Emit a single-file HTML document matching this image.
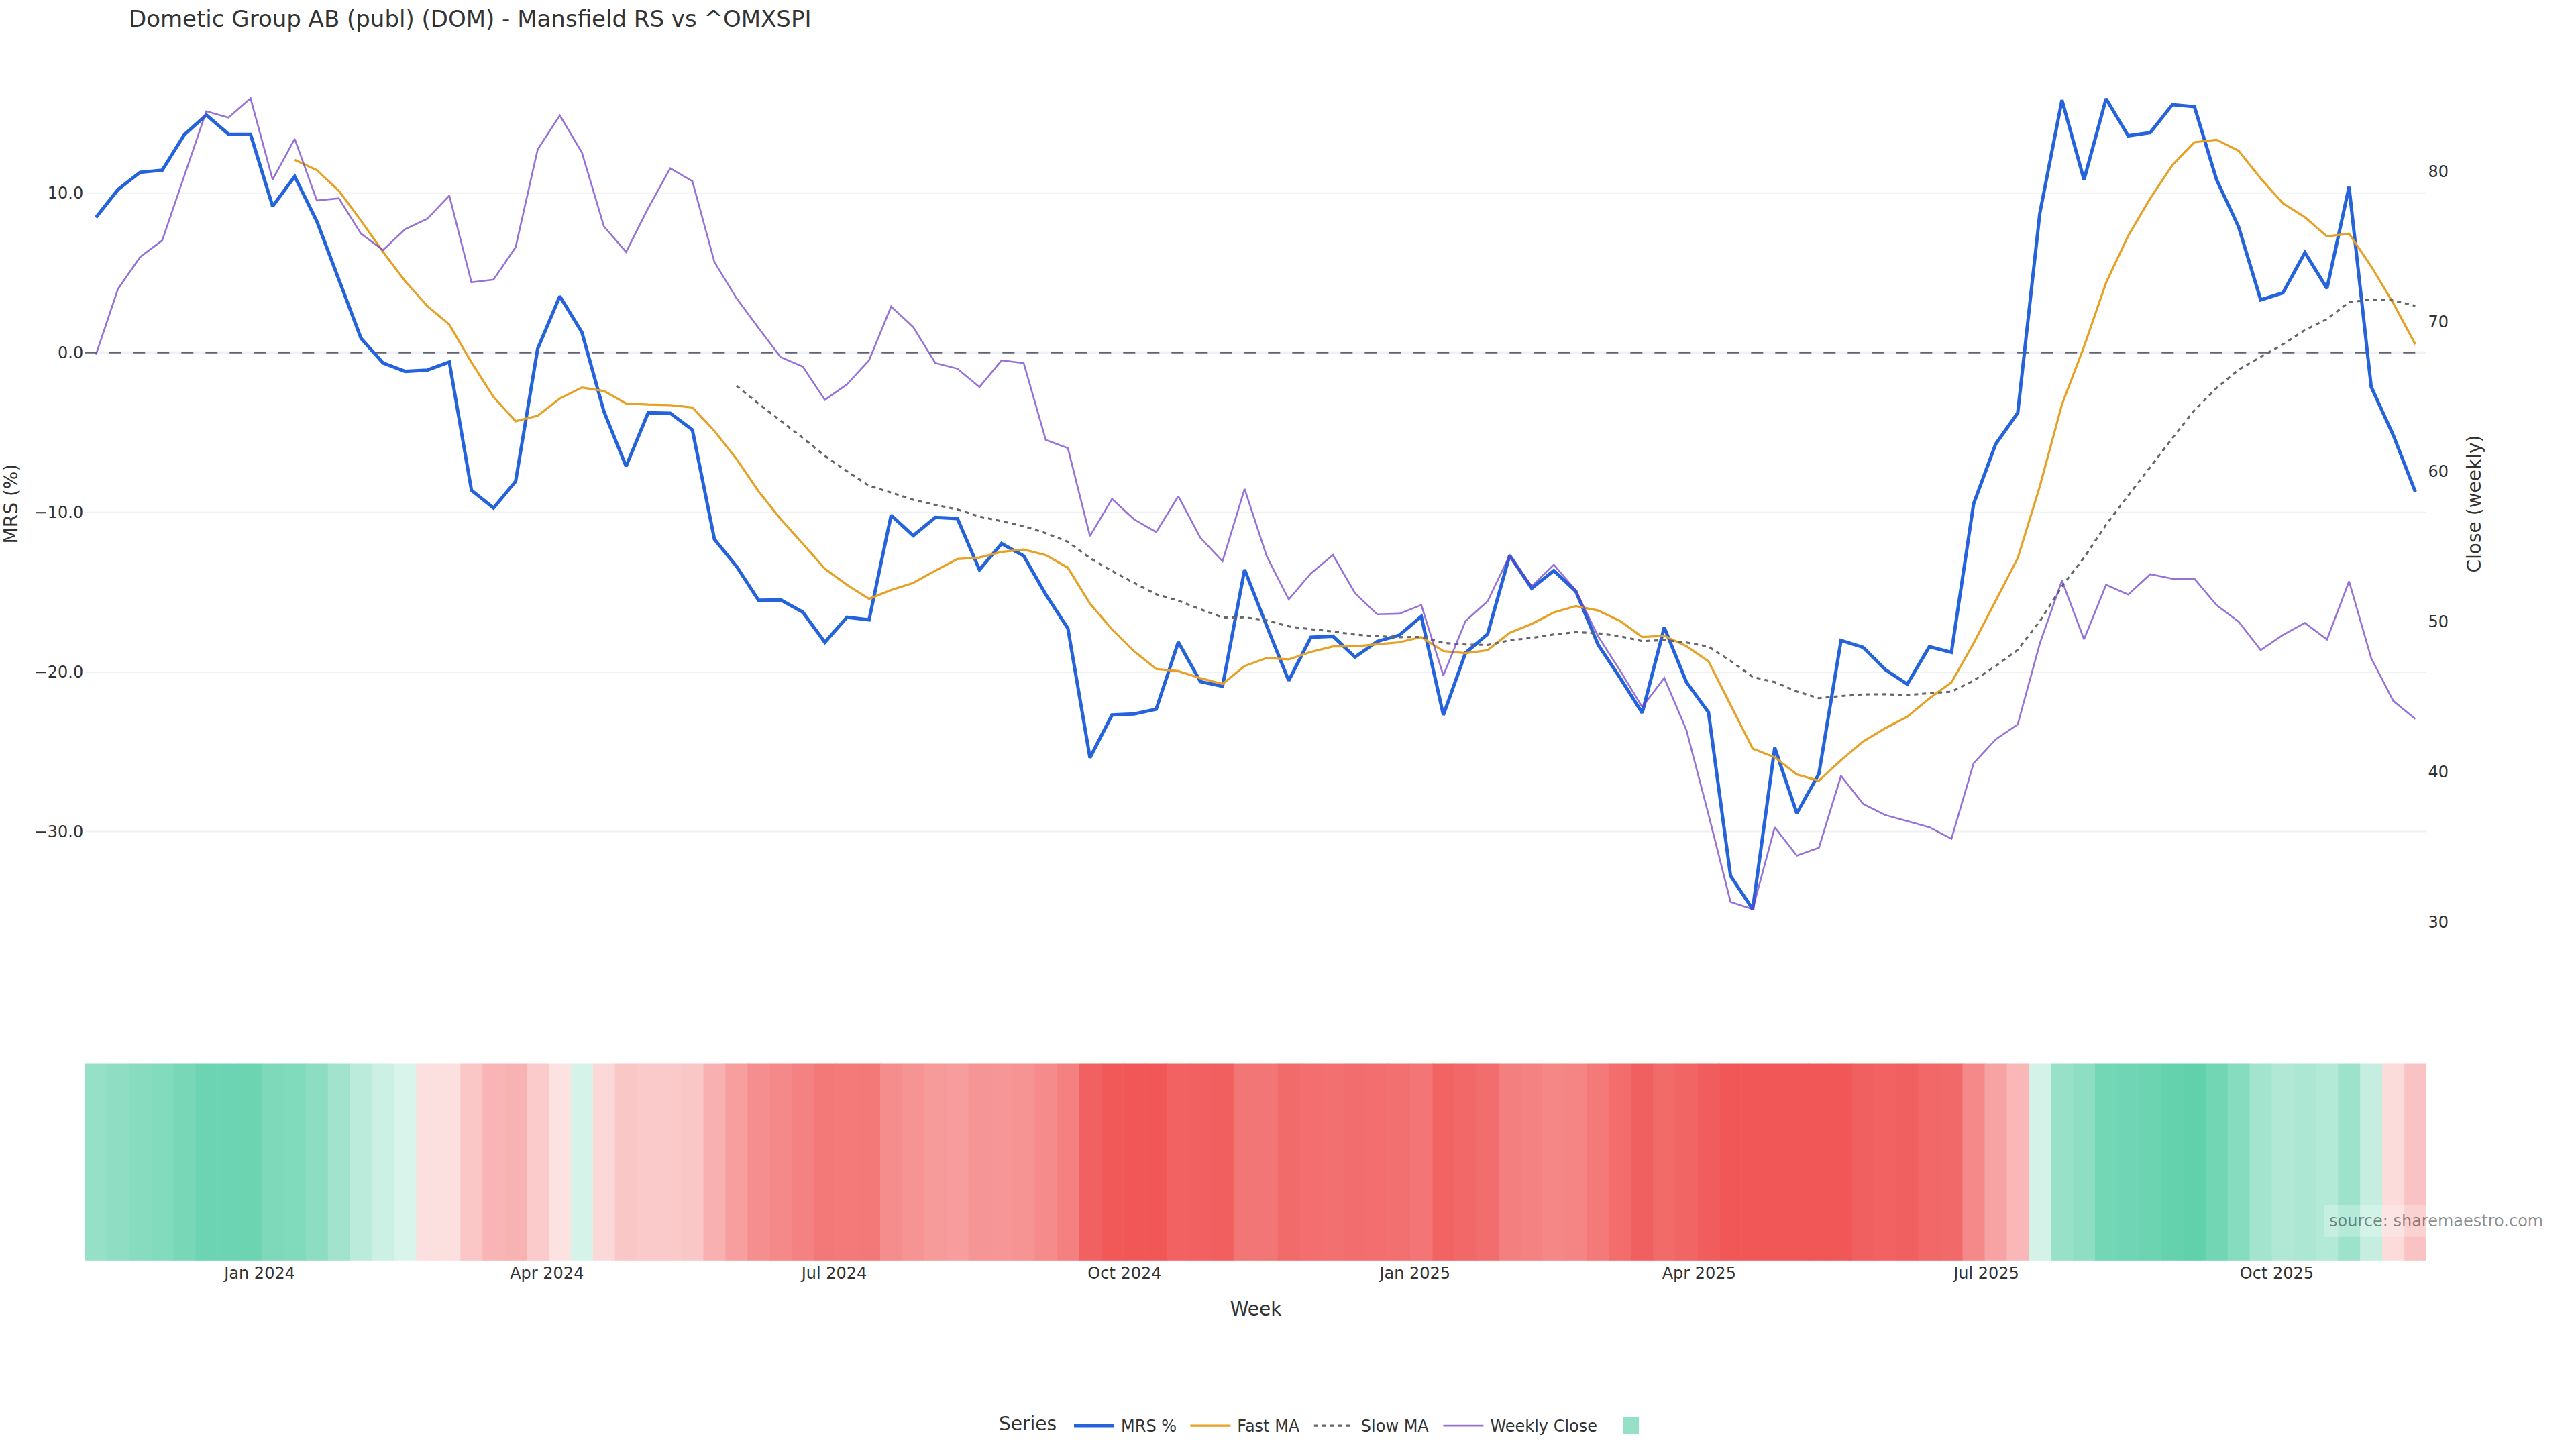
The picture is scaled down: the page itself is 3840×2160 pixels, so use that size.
<!DOCTYPE html><html><head><meta charset="utf-8"><title>Dometic Group AB (publ) (DOM) - Mansfield RS vs ^OMXSPI</title>
<style>html,body{margin:0;padding:0;background:#fff}svg{display:block}text{font-family:"DejaVu Sans","Liberation Sans",sans-serif}</style></head><body>
<svg width="3840" height="2160" viewBox="0 0 3840 2160">
<rect width="3840" height="2160" fill="#fff"/>
<line x1="126.5" x2="3617.0" y1="287.8" y2="287.8" stroke="#eff0f2" stroke-width="2"/>
<line x1="126.5" x2="3617.0" y1="763.7" y2="763.7" stroke="#eff0f2" stroke-width="2"/>
<line x1="126.5" x2="3617.0" y1="1001.9" y2="1001.9" stroke="#eff0f2" stroke-width="2"/>
<line x1="126.5" x2="3617.0" y1="1239.4" y2="1239.4" stroke="#eff0f2" stroke-width="2"/>
<line x1="126.5" x2="3617.0" y1="525.7" y2="525.7" stroke="#eef0fa" stroke-width="4"/>
<rect x="126.50" y="1585.5" width="33.53" height="294.29999999999995" fill="rgb(150,224,200)"/>
<rect x="159.43" y="1585.5" width="33.53" height="294.29999999999995" fill="rgb(143,222,196)"/>
<rect x="192.36" y="1585.5" width="33.53" height="294.29999999999995" fill="rgb(135,220,192)"/>
<rect x="225.29" y="1585.5" width="33.53" height="294.29999999999995" fill="rgb(130,219,189)"/>
<rect x="258.22" y="1585.5" width="33.53" height="294.29999999999995" fill="rgb(119,215,183)"/>
<rect x="291.15" y="1585.5" width="33.53" height="294.29999999999995" fill="rgb(108,212,178)"/>
<rect x="324.08" y="1585.5" width="33.53" height="294.29999999999995" fill="rgb(108,212,178)"/>
<rect x="357.00" y="1585.5" width="33.53" height="294.29999999999995" fill="rgb(108,212,177)"/>
<rect x="389.93" y="1585.5" width="33.53" height="294.29999999999995" fill="rgb(126,217,187)"/>
<rect x="422.86" y="1585.5" width="33.53" height="294.29999999999995" fill="rgb(128,218,188)"/>
<rect x="455.79" y="1585.5" width="33.53" height="294.29999999999995" fill="rgb(140,221,194)"/>
<rect x="488.72" y="1585.5" width="33.53" height="294.29999999999995" fill="rgb(161,227,205)"/>
<rect x="521.65" y="1585.5" width="33.53" height="294.29999999999995" fill="rgb(186,235,219)"/>
<rect x="554.58" y="1585.5" width="33.53" height="294.29999999999995" fill="rgb(205,240,229)"/>
<rect x="587.51" y="1585.5" width="33.53" height="294.29999999999995" fill="rgb(217,244,235)"/>
<rect x="620.44" y="1585.5" width="33.53" height="294.29999999999995" fill="rgb(252,224,224)"/>
<rect x="653.37" y="1585.5" width="33.53" height="294.29999999999995" fill="rgb(252,224,224)"/>
<rect x="686.30" y="1585.5" width="33.53" height="294.29999999999995" fill="rgb(250,198,198)"/>
<rect x="719.23" y="1585.5" width="33.53" height="294.29999999999995" fill="rgb(249,181,181)"/>
<rect x="752.16" y="1585.5" width="33.53" height="294.29999999999995" fill="rgb(248,178,178)"/>
<rect x="785.08" y="1585.5" width="33.53" height="294.29999999999995" fill="rgb(251,203,203)"/>
<rect x="818.01" y="1585.5" width="33.53" height="294.29999999999995" fill="rgb(253,226,226)"/>
<rect x="850.94" y="1585.5" width="33.53" height="294.29999999999995" fill="rgb(214,243,234)"/>
<rect x="883.87" y="1585.5" width="33.53" height="294.29999999999995" fill="rgb(252,217,217)"/>
<rect x="916.80" y="1585.5" width="33.53" height="294.29999999999995" fill="rgb(250,199,199)"/>
<rect x="949.73" y="1585.5" width="33.53" height="294.29999999999995" fill="rgb(250,201,201)"/>
<rect x="982.66" y="1585.5" width="33.53" height="294.29999999999995" fill="rgb(250,202,202)"/>
<rect x="1015.59" y="1585.5" width="33.53" height="294.29999999999995" fill="rgb(250,199,199)"/>
<rect x="1048.52" y="1585.5" width="33.53" height="294.29999999999995" fill="rgb(248,176,176)"/>
<rect x="1081.45" y="1585.5" width="33.53" height="294.29999999999995" fill="rgb(247,159,159)"/>
<rect x="1114.38" y="1585.5" width="33.53" height="294.29999999999995" fill="rgb(245,143,143)"/>
<rect x="1147.31" y="1585.5" width="33.53" height="294.29999999999995" fill="rgb(245,136,136)"/>
<rect x="1180.24" y="1585.5" width="33.53" height="294.29999999999995" fill="rgb(244,130,130)"/>
<rect x="1213.17" y="1585.5" width="33.53" height="294.29999999999995" fill="rgb(243,120,120)"/>
<rect x="1246.09" y="1585.5" width="33.53" height="294.29999999999995" fill="rgb(244,121,121)"/>
<rect x="1279.02" y="1585.5" width="33.53" height="294.29999999999995" fill="rgb(243,120,120)"/>
<rect x="1311.95" y="1585.5" width="33.53" height="294.29999999999995" fill="rgb(245,141,141)"/>
<rect x="1344.88" y="1585.5" width="33.53" height="294.29999999999995" fill="rgb(246,148,148)"/>
<rect x="1377.81" y="1585.5" width="33.53" height="294.29999999999995" fill="rgb(246,154,154)"/>
<rect x="1410.74" y="1585.5" width="33.53" height="294.29999999999995" fill="rgb(247,157,157)"/>
<rect x="1443.67" y="1585.5" width="33.53" height="294.29999999999995" fill="rgb(246,149,149)"/>
<rect x="1476.60" y="1585.5" width="33.53" height="294.29999999999995" fill="rgb(246,150,150)"/>
<rect x="1509.53" y="1585.5" width="33.53" height="294.29999999999995" fill="rgb(246,148,148)"/>
<rect x="1542.46" y="1585.5" width="33.53" height="294.29999999999995" fill="rgb(245,139,139)"/>
<rect x="1575.39" y="1585.5" width="33.53" height="294.29999999999995" fill="rgb(244,128,128)"/>
<rect x="1608.32" y="1585.5" width="33.53" height="294.29999999999995" fill="rgb(241,97,97)"/>
<rect x="1641.25" y="1585.5" width="33.53" height="294.29999999999995" fill="rgb(241,89,89)"/>
<rect x="1674.17" y="1585.5" width="33.53" height="294.29999999999995" fill="rgb(241,87,87)"/>
<rect x="1707.10" y="1585.5" width="33.53" height="294.29999999999995" fill="rgb(241,87,87)"/>
<rect x="1740.03" y="1585.5" width="33.53" height="294.29999999999995" fill="rgb(242,98,98)"/>
<rect x="1772.96" y="1585.5" width="33.53" height="294.29999999999995" fill="rgb(241,97,97)"/>
<rect x="1805.89" y="1585.5" width="33.53" height="294.29999999999995" fill="rgb(241,95,95)"/>
<rect x="1838.82" y="1585.5" width="33.53" height="294.29999999999995" fill="rgb(243,118,118)"/>
<rect x="1871.75" y="1585.5" width="33.53" height="294.29999999999995" fill="rgb(243,118,118)"/>
<rect x="1904.68" y="1585.5" width="33.53" height="294.29999999999995" fill="rgb(242,107,107)"/>
<rect x="1937.61" y="1585.5" width="33.53" height="294.29999999999995" fill="rgb(243,110,110)"/>
<rect x="1970.54" y="1585.5" width="33.53" height="294.29999999999995" fill="rgb(243,112,112)"/>
<rect x="2003.47" y="1585.5" width="33.53" height="294.29999999999995" fill="rgb(242,109,109)"/>
<rect x="2036.40" y="1585.5" width="33.53" height="294.29999999999995" fill="rgb(243,110,110)"/>
<rect x="2069.33" y="1585.5" width="33.53" height="294.29999999999995" fill="rgb(243,112,112)"/>
<rect x="2102.25" y="1585.5" width="33.53" height="294.29999999999995" fill="rgb(243,117,117)"/>
<rect x="2135.18" y="1585.5" width="33.53" height="294.29999999999995" fill="rgb(242,99,99)"/>
<rect x="2168.11" y="1585.5" width="33.53" height="294.29999999999995" fill="rgb(242,103,103)"/>
<rect x="2201.04" y="1585.5" width="33.53" height="294.29999999999995" fill="rgb(242,109,109)"/>
<rect x="2233.97" y="1585.5" width="33.53" height="294.29999999999995" fill="rgb(244,127,127)"/>
<rect x="2266.90" y="1585.5" width="33.53" height="294.29999999999995" fill="rgb(244,130,130)"/>
<rect x="2299.83" y="1585.5" width="33.53" height="294.29999999999995" fill="rgb(245,135,135)"/>
<rect x="2332.76" y="1585.5" width="33.53" height="294.29999999999995" fill="rgb(245,133,133)"/>
<rect x="2365.69" y="1585.5" width="33.53" height="294.29999999999995" fill="rgb(244,122,122)"/>
<rect x="2398.62" y="1585.5" width="33.53" height="294.29999999999995" fill="rgb(243,109,109)"/>
<rect x="2431.55" y="1585.5" width="33.53" height="294.29999999999995" fill="rgb(241,96,96)"/>
<rect x="2464.48" y="1585.5" width="33.53" height="294.29999999999995" fill="rgb(242,107,107)"/>
<rect x="2497.41" y="1585.5" width="33.53" height="294.29999999999995" fill="rgb(242,101,101)"/>
<rect x="2530.33" y="1585.5" width="33.53" height="294.29999999999995" fill="rgb(241,92,92)"/>
<rect x="2563.26" y="1585.5" width="33.53" height="294.29999999999995" fill="rgb(241,87,87)"/>
<rect x="2596.19" y="1585.5" width="33.53" height="294.29999999999995" fill="rgb(241,87,87)"/>
<rect x="2629.12" y="1585.5" width="33.53" height="294.29999999999995" fill="rgb(241,87,87)"/>
<rect x="2662.05" y="1585.5" width="33.53" height="294.29999999999995" fill="rgb(241,87,87)"/>
<rect x="2694.98" y="1585.5" width="33.53" height="294.29999999999995" fill="rgb(241,87,87)"/>
<rect x="2727.91" y="1585.5" width="33.53" height="294.29999999999995" fill="rgb(241,87,87)"/>
<rect x="2760.84" y="1585.5" width="33.53" height="294.29999999999995" fill="rgb(241,96,96)"/>
<rect x="2793.77" y="1585.5" width="33.53" height="294.29999999999995" fill="rgb(242,98,98)"/>
<rect x="2826.70" y="1585.5" width="33.53" height="294.29999999999995" fill="rgb(241,96,96)"/>
<rect x="2859.63" y="1585.5" width="33.53" height="294.29999999999995" fill="rgb(242,103,103)"/>
<rect x="2892.56" y="1585.5" width="33.53" height="294.29999999999995" fill="rgb(242,105,105)"/>
<rect x="2925.49" y="1585.5" width="33.53" height="294.29999999999995" fill="rgb(245,136,136)"/>
<rect x="2958.42" y="1585.5" width="33.53" height="294.29999999999995" fill="rgb(247,163,163)"/>
<rect x="2991.34" y="1585.5" width="33.53" height="294.29999999999995" fill="rgb(249,183,183)"/>
<rect x="3024.27" y="1585.5" width="33.53" height="294.29999999999995" fill="rgb(212,242,232)"/>
<rect x="3057.20" y="1585.5" width="33.53" height="294.29999999999995" fill="rgb(151,225,200)"/>
<rect x="3090.13" y="1585.5" width="33.53" height="294.29999999999995" fill="rgb(141,222,195)"/>
<rect x="3123.06" y="1585.5" width="33.53" height="294.29999999999995" fill="rgb(115,214,181)"/>
<rect x="3155.99" y="1585.5" width="33.53" height="294.29999999999995" fill="rgb(112,213,180)"/>
<rect x="3188.92" y="1585.5" width="33.53" height="294.29999999999995" fill="rgb(109,212,178)"/>
<rect x="3221.85" y="1585.5" width="33.53" height="294.29999999999995" fill="rgb(101,210,174)"/>
<rect x="3254.78" y="1585.5" width="33.53" height="294.29999999999995" fill="rgb(97,209,172)"/>
<rect x="3287.71" y="1585.5" width="33.53" height="294.29999999999995" fill="rgb(114,214,181)"/>
<rect x="3320.64" y="1585.5" width="33.53" height="294.29999999999995" fill="rgb(134,220,191)"/>
<rect x="3353.57" y="1585.5" width="33.53" height="294.29999999999995" fill="rgb(163,228,207)"/>
<rect x="3386.50" y="1585.5" width="33.53" height="294.29999999999995" fill="rgb(176,232,213)"/>
<rect x="3419.42" y="1585.5" width="33.53" height="294.29999999999995" fill="rgb(172,231,211)"/>
<rect x="3452.35" y="1585.5" width="33.53" height="294.29999999999995" fill="rgb(179,233,215)"/>
<rect x="3485.28" y="1585.5" width="33.53" height="294.29999999999995" fill="rgb(157,226,203)"/>
<rect x="3518.21" y="1585.5" width="33.53" height="294.29999999999995" fill="rgb(197,238,224)"/>
<rect x="3551.14" y="1585.5" width="33.53" height="294.29999999999995" fill="rgb(252,219,219)"/>
<rect x="3584.07" y="1585.5" width="32.93" height="294.29999999999995" fill="rgb(250,195,195)"/>
<line x1="126.3" x2="3617.0" y1="525.8000000000001" y2="525.8000000000001" stroke="#62636e" stroke-width="2" stroke-dasharray="18,18"/>
<path d="M143.0,324.2L175.9,282.6L208.8,256.8L241.8,253.7L274.7,200.9L307.6,171.4L340.5,200.0L373.5,200.3L406.4,307.5L439.3,263.0L472.3,329.8L505.2,416.8L538.1,504.2L571.0,541.2L604.0,553.6L636.9,551.7L669.8,539.6L702.8,730.9L735.7,757.3L768.6,717.6L801.5,519.8L834.5,441.6L867.4,495.2L900.3,613.5L933.3,695.1L966.2,615.3L999.1,615.9L1032.1,640.7L1065.0,803.8L1097.9,844.2L1130.8,894.8L1163.8,894.2L1196.7,912.5L1229.6,957.5L1262.6,920.2L1295.5,924.0L1328.4,768.1L1361.3,798.5L1394.3,771.2L1427.2,773.0L1460.1,849.4L1493.1,810.3L1526.0,828.6L1558.9,886.1L1591.9,936.7L1624.8,1129.5L1657.7,1065.8L1690.6,1064.3L1723.6,1057.1L1756.5,957.1L1789.4,1016.1L1822.4,1023.0L1855.3,849.1L1888.2,932.9L1921.1,1014.6L1954.1,950.0L1987.0,948.4L2019.9,979.5L2052.9,956.2L2085.8,946.9L2118.7,918.9L2151.6,1065.8L2184.6,973.3L2217.5,945.3L2250.4,828.0L2283.4,877.0L2316.3,850.6L2349.2,881.7L2382.2,960.9L2415.1,1010.6L2448.0,1062.7L2480.9,935.4L2513.9,1016.8L2546.8,1061.8L2579.7,1305.6L2612.7,1355.3L2645.6,1114.6L2678.5,1212.4L2711.4,1153.4L2744.4,954.7L2777.3,964.9L2810.2,998.1L2843.2,1019.9L2876.1,964.0L2909.0,972.4L2942.0,751.2L2974.9,662.0L3007.8,615.5L3040.7,318.1L3073.7,149.2L3106.6,268.0L3139.5,147.2L3172.5,202.5L3205.4,197.6L3238.3,156.0L3271.2,159.1L3304.2,267.8L3337.1,338.3L3370.0,447.0L3403.0,436.7L3435.9,376.5L3468.8,429.9L3501.7,278.6L3534.7,576.6L3567.6,648.7L3600.5,733.2" fill="none" stroke-miterlimit="2" stroke="#2563dc" stroke-width="5"/>
<path d="M439.3,238.3L472.3,253.6L505.2,284.5L538.1,328.9L571.0,375.5L604.0,419.2L636.9,456.1L669.8,483.9L702.8,540.2L735.7,591.8L768.6,627.9L801.5,619.8L834.5,594.1L867.4,577.6L900.3,582.8L933.3,601.5L966.2,603.2L999.1,603.8L1032.1,607.5L1065.0,642.5L1097.9,684.1L1130.8,732.5L1163.8,773.9L1196.7,810.5L1229.6,847.7L1262.6,871.9L1295.5,892.6L1328.4,879.4L1361.3,868.9L1394.3,850.7L1427.2,833.3L1460.1,831.1L1493.1,822.7L1526.0,819.1L1558.9,827.4L1591.9,846.3L1624.8,899.9L1657.7,938.2L1690.6,970.8L1723.6,997.3L1756.5,1000.4L1789.4,1010.9L1822.4,1019.6L1855.3,992.8L1888.2,980.8L1921.1,982.9L1954.1,971.8L1987.0,963.7L2019.9,963.4L2052.9,960.4L2085.8,957.5L2118.7,949.8L2151.6,970.5L2184.6,973.6L2217.5,969.3L2250.4,943.5L2283.4,930.0L2316.3,913.0L2349.2,903.5L2382.2,910.1L2415.1,925.7L2448.0,949.6L2480.9,947.8L2513.9,963.1L2546.8,985.8L2579.7,1050.7L2612.7,1116.0L2645.6,1128.8L2678.5,1154.6L2711.4,1163.7L2744.4,1133.1L2777.3,1105.4L2810.2,1085.5L2843.2,1068.4L2876.1,1041.1L2909.0,1017.2L2942.0,959.0L2974.9,895.6L3007.8,832.0L3040.7,725.2L3073.7,602.9L3106.6,516.8L3139.5,421.4L3172.5,351.5L3205.4,295.6L3238.3,246.1L3271.2,212.0L3304.2,208.4L3337.1,224.8L3370.0,266.0L3403.0,303.0L3435.9,323.8L3468.8,352.4L3501.7,348.3L3534.7,397.0L3567.6,451.9L3600.5,513.2" fill="none" stroke-miterlimit="2" stroke="#e6a023" stroke-width="3.2"/>
<path d="M1097.9,575.0L1130.8,601.8L1163.8,627.3L1196.7,652.7L1229.6,679.6L1262.6,702.6L1295.5,724.2L1328.4,734.2L1361.3,744.9L1394.3,752.6L1427.2,759.4L1460.1,770.0L1493.1,777.0L1526.0,784.3L1558.9,794.7L1591.9,807.5L1624.8,832.0L1657.7,851.1L1690.6,869.0L1723.6,885.7L1756.5,895.3L1789.4,908.2L1822.4,920.5L1855.3,920.3L1888.2,924.8L1921.1,933.8L1954.1,938.0L1987.0,941.3L2019.9,946.0L2052.9,948.4L2085.8,949.9L2118.7,949.4L2151.6,958.3L2184.6,960.8L2217.5,961.4L2250.4,954.5L2283.4,950.9L2316.3,945.8L2349.2,942.4L2382.2,944.0L2415.1,948.4L2448.0,955.7L2480.9,954.2L2513.9,957.8L2546.8,963.8L2579.7,985.2L2612.7,1009.0L2645.6,1016.8L2678.5,1030.8L2711.4,1040.7L2744.4,1037.6L2777.3,1035.1L2810.2,1034.9L2843.2,1036.1L2876.1,1033.3L2909.0,1031.1L2942.0,1014.6L2974.9,992.8L3007.8,968.7L3040.7,926.1L3073.7,874.0L3106.6,831.3L3139.5,782.2L3172.5,738.7L3205.4,696.4L3238.3,653.1L3271.2,611.5L3304.2,578.4L3337.1,551.1L3370.0,532.0L3403.0,513.3L3435.9,492.0L3468.8,475.6L3501.7,450.5L3534.7,446.3L3567.6,447.7L3600.5,456.0" fill="none" stroke-miterlimit="2" stroke="#666" stroke-width="3.1" stroke-dasharray="6,6"/>
<path d="M143.0,528.6L175.9,430.7L208.8,383.2L241.8,358.4L274.7,262.1L307.6,165.8L340.5,175.2L373.5,146.6L406.4,267.7L439.3,207.1L472.3,298.8L505.2,295.7L538.1,348.4L571.0,372.7L604.0,341.6L636.9,326.1L669.8,291.6L702.8,420.8L735.7,416.8L768.6,368.6L801.5,222.7L834.5,172.0L867.4,227.3L900.3,337.6L933.3,375.7L966.2,310.4L999.1,250.8L1032.1,270.1L1065.0,390.6L1097.9,444.6L1130.8,489.0L1163.8,532.5L1196.7,546.5L1229.6,596.1L1262.6,572.9L1295.5,537.1L1328.4,457.0L1361.3,487.5L1394.3,541.2L1427.2,549.6L1460.1,576.9L1493.1,537.1L1526.0,541.2L1558.9,655.7L1591.9,668.1L1624.8,799.1L1657.7,743.9L1690.6,774.3L1723.6,793.2L1756.5,739.8L1789.4,801.6L1822.4,836.6L1855.3,728.9L1888.2,828.9L1921.1,893.5L1954.1,854.7L1987.0,827.3L2019.9,884.2L2052.9,915.8L2085.8,914.9L2118.7,901.9L2151.6,1006.8L2184.6,925.8L2217.5,896.3L2250.4,828.0L2283.4,873.9L2316.3,841.9L2349.2,880.1L2382.2,948.4L2415.1,999.7L2448.0,1054.0L2480.9,1010.6L2513.9,1088.2L2546.8,1214.0L2579.7,1344.4L2612.7,1355.3L2645.6,1233.2L2678.5,1275.5L2711.4,1263.7L2744.4,1156.5L2777.3,1198.4L2810.2,1214.9L2843.2,1223.9L2876.1,1233.2L2909.0,1250.3L2942.0,1137.9L2974.9,1102.2L3007.8,1079.8L3040.7,959.3L3073.7,865.5L3106.6,953.0L3139.5,871.7L3172.5,886.3L3205.4,856.0L3238.3,862.7L3271.2,862.7L3304.2,902.0L3337.1,926.8L3370.0,969.1L3403.0,946.7L3435.9,928.6L3468.8,953.4L3501.7,866.5L3534.7,981.0L3567.6,1044.8L3600.5,1071.7" fill="none" stroke-miterlimit="2" stroke="rgb(109,60,200)" stroke-opacity="0.72" stroke-width="2.6"/>
<text x="192" y="39.9" font-size="34" fill="#333">Dometic Group AB (publ) (DOM) - Mansfield RS vs ^OMXSPI</text>
<text x="124.2" y="296.2" font-size="24" text-anchor="end" fill="#333">10.0</text>
<text x="124.2" y="534.1" font-size="24" text-anchor="end" fill="#333">0.0</text>
<text x="124.2" y="772.1" font-size="24" text-anchor="end" fill="#333">−10.0</text>
<text x="124.2" y="1010.3" font-size="24" text-anchor="end" fill="#333">−20.0</text>
<text x="124.2" y="1247.8" font-size="24" text-anchor="end" fill="#333">−30.0</text>
<text x="3619.4" y="263.7" font-size="24" fill="#333">80</text>
<text x="3619.4" y="487.5" font-size="24" fill="#333">70</text>
<text x="3619.4" y="711.3" font-size="24" fill="#333">60</text>
<text x="3619.4" y="935.1" font-size="24" fill="#333">50</text>
<text x="3619.4" y="1158.9" font-size="24" fill="#333">40</text>
<text x="3619.4" y="1382.7" font-size="24" fill="#333">30</text>
<text transform="translate(26.1,751) rotate(-90)" font-size="28" text-anchor="middle" fill="#333">MRS (%)</text>
<text transform="translate(3698,751) rotate(-90)" font-size="28" text-anchor="middle" fill="#333">Close (weekly)</text>
<text x="387.1" y="1906" font-size="24" text-anchor="middle" fill="#333">Jan 2024</text>
<text x="815.3" y="1906" font-size="24" text-anchor="middle" fill="#333">Apr 2024</text>
<text x="1243.5" y="1906" font-size="24" text-anchor="middle" fill="#333">Jul 2024</text>
<text x="1676.4" y="1906" font-size="24" text-anchor="middle" fill="#333">Oct 2024</text>
<text x="2109.3" y="1906" font-size="24" text-anchor="middle" fill="#333">Jan 2025</text>
<text x="2532.8" y="1906" font-size="24" text-anchor="middle" fill="#333">Apr 2025</text>
<text x="2961.0" y="1906" font-size="24" text-anchor="middle" fill="#333">Jul 2025</text>
<text x="3393.9" y="1906" font-size="24" text-anchor="middle" fill="#333">Oct 2025</text>
<text x="1872" y="1961" font-size="28" text-anchor="middle" fill="#333">Week</text>
<rect x="3464" y="1796.7" width="334" height="47" fill="#fff" fill-opacity="0.25"/>
<text x="3472" y="1827.5" font-size="24" fill="#000" fill-opacity="0.45">source: sharemaestro.com</text>
<text x="1489" y="2131.8" font-size="28" fill="#333">Series</text>
<line x1="1601" x2="1661" y1="2125.1" y2="2125.1" stroke="#2563dc" stroke-width="5"/>
<text x="1671" y="2133.7" font-size="24" fill="#333">MRS %</text>
<line x1="1774.3" x2="1834.3" y1="2125.1" y2="2125.1" stroke="#e6a023" stroke-width="3.2"/>
<text x="1844.3" y="2133.7" font-size="24" fill="#333">Fast MA</text>
<line x1="1958.8" x2="2018.8" y1="2125.1" y2="2125.1" stroke="#666" stroke-width="3.1" stroke-dasharray="6,6"/>
<text x="2028.8" y="2133.7" font-size="24" fill="#333">Slow MA</text>
<line x1="2151.4" x2="2211.4" y1="2125.1" y2="2125.1" stroke="rgb(109,60,200)" stroke-opacity="0.72" stroke-width="2.6"/>
<text x="2221.4" y="2133.7" font-size="24" fill="#333">Weekly Close</text>
<rect x="2419" y="2113" width="24" height="24" fill="rgb(150,224,200)"/>
</svg></body></html>
